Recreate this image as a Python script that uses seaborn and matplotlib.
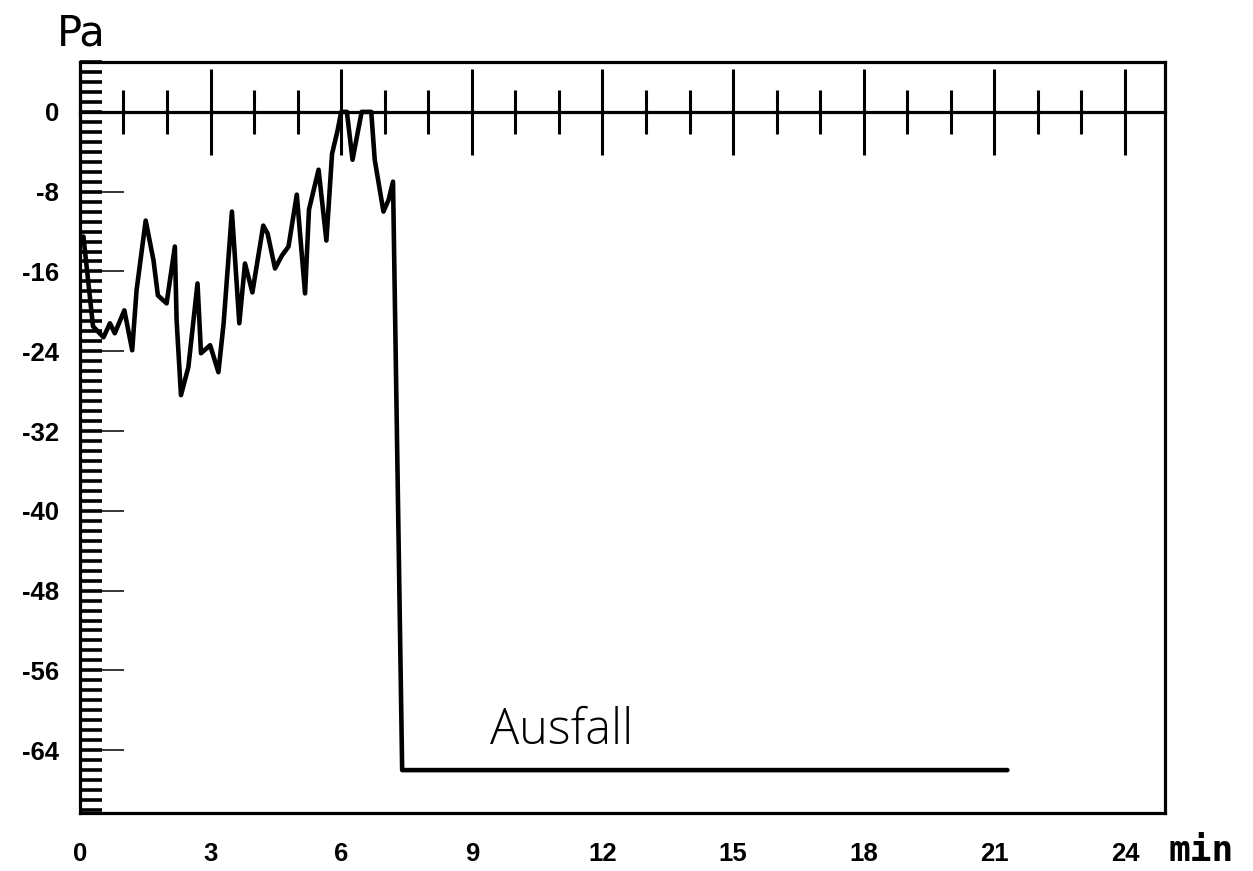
import matplotlib
matplotlib.use("Agg")
import matplotlib.pyplot as plt
from matplotlib.ticker import MultipleLocator
import seaborn as sns

# Pressure trace (minutes, Pa); after the failure the reading sits at the floor value
minutes = [0.08, 0.30, 0.54, 0.69, 0.80, 1.02, 1.20, 1.30, 1.51, 1.69, 1.79, 1.99,
           2.18, 2.22, 2.32, 2.49, 2.70, 2.78, 2.99, 3.18, 3.30, 3.49, 3.66, 3.79,
           3.96, 4.21, 4.31, 4.48, 4.64, 4.79, 4.98, 5.17, 5.26, 5.48, 5.66, 5.79,
           5.92, 6.00, 6.13, 6.26, 6.47, 6.69, 6.77, 6.97, 7.09, 7.19, 7.40, 21.3]
pressure = [-12.5, -21.5, -22.6, -21.2, -22.2, -19.9, -23.9, -17.9, -10.9, -14.9, -18.4, -19.2,
            -13.5, -20.9, -28.4, -25.6, -17.2, -24.2, -23.4, -26.1, -21.2, -10.0, -21.2, -15.2,
            -18.1, -11.4, -12.2, -15.7, -14.4, -13.5, -8.3, -18.2, -9.8, -5.8, -12.9, -4.2,
            -1.8, 0.0, 0.0, -4.8, 0.0, 0.0, -4.8, -10.0, -8.8, -7.0, -66.0, -66.0]

x_ticks = [0, 3, 6, 9, 12, 15, 18, 21, 24]
x_labels = ["0", "3", "6", "9", "12", "15", "18", "21", "24"]
y_ticks = [0, -8, -16, -24, -32, -40, -48, -56, -64]
y_labels = ["0", "-8", "-16", "-24", "-32", "-40", "-48", "-56", "-64"]

sns.set_theme(style="white")
plt.rcParams["font.family"] = ["DejaVu Sans"]

tick_font = dict(family=["Liberation Sans", "DejaVu Sans"], weight="bold", size=18.5)

fig = plt.figure(figsize=(12.53, 8.71), dpi=100)
ax = fig.add_axes([0.0638, 0.0666, 0.8660, 0.8622])

sns.lineplot(x=minutes, y=pressure, sort=False, estimator=None, color="black",
             linewidth=3.3, ax=ax)

ax.set_xlim(0, 24.92)
ax.set_ylim(-70.3, 5.0)

for side in ["top", "bottom", "left", "right"]:
    ax.spines[side].set_visible(True)
    ax.spines[side].set_color("black")
    ax.spines[side].set_linewidth(2.3)

# bottom labels only; tick marks live on the zero line
ax.set_xticks(x_ticks)
ax.set_xticklabels(x_labels, fontdict=tick_font)
ax.tick_params(axis="x", which="both", length=0, pad=21, colors="black")

# pressure ruler on the left edge
ax.set_yticks(y_ticks)
ax.set_yticklabels(y_labels, fontdict=tick_font)
ax.yaxis.set_minor_locator(MultipleLocator(1))
ax.yaxis.remove_overlapping_locs = False
ax.tick_params(axis="y", which="major", direction="in", length=32, width=1.1,
               pad=15, colors="black", left=True)
ax.tick_params(axis="y", which="minor", direction="in", length=16, width=2.6,
               colors="black", left=True)

# zero line carrying the time ticks
ax2 = ax.twiny()
ax2.set_xlim(ax.get_xlim())
for side in ["top", "left", "right"]:
    ax2.spines[side].set_visible(False)
ax2.spines["bottom"].set_visible(True)
ax2.spines["bottom"].set_position(("data", 0))
ax2.spines["bottom"].set_linewidth(2.3)
ax2.spines["bottom"].set_color("black")
ax2.xaxis.set_ticks_position("bottom")
ax2.set_xticks(x_ticks)
ax2.xaxis.set_minor_locator(MultipleLocator(1))
ax2.tick_params(axis="x", which="major", direction="inout", length=62, width=2.2,
                colors="black", labelbottom=False, labeltop=False, bottom=True)
ax2.tick_params(axis="x", which="minor", direction="inout", length=32, width=2.2,
                colors="black", bottom=True)
ax2.grid(False)
ax.grid(False)

ax.text(9.42, -63.4, "Ausfall", fontsize=35, family=["Open Sans", "DejaVu Sans"],
        fontweight="light", color="black", va="baseline", ha="left")

fig.text(57 / 1253, 1 - 45 / 871, "Pa", fontsize=30, color="black",
         va="baseline", ha="left")
fig.text(1168 / 1253, 0.004, "min", fontsize=26, color="black",
         family=["DejaVu Sans Mono"], fontweight="bold", va="bottom", ha="left")

fig.savefig("out.png", dpi=100, facecolor="white")
